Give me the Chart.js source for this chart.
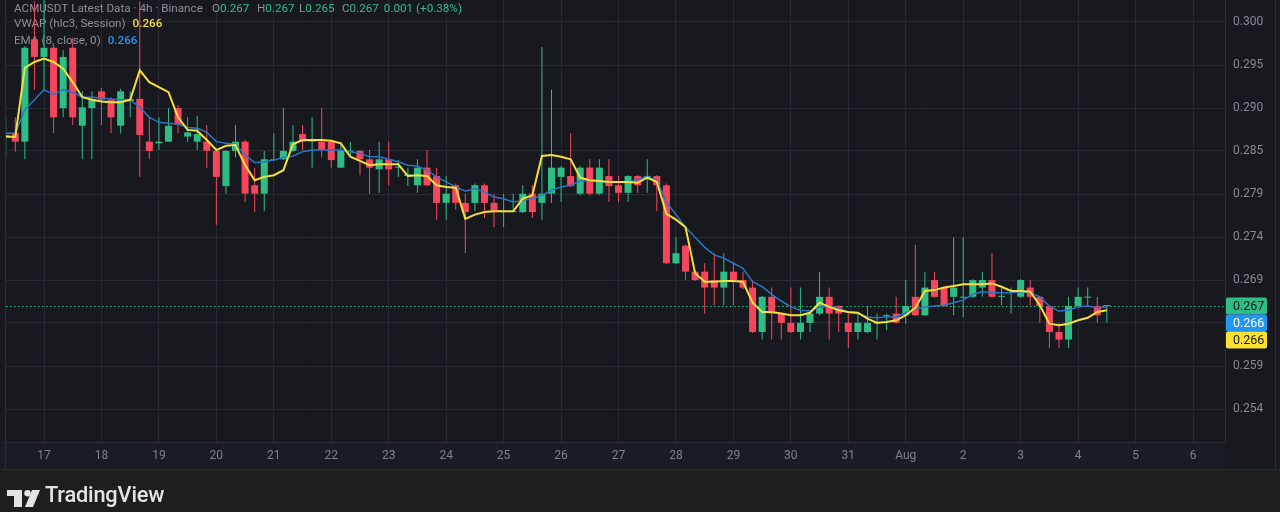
<!DOCTYPE html>
<html>
<head>
<meta charset="utf-8">
<script src="https://cdn.jsdelivr.net/npm/chart.js@4.4.1/dist/chart.umd.min.js"></script>
<style>
  html, body { margin: 0; padding: 0; background: #1e1e1e; }
  #wrap { position: relative; width: 1280px; height: 512px; overflow: hidden; }
  #logo { position: absolute; left: 7px; top: 490px; }
  #brand { position: absolute; left: 45px; top: 484px; font: 500 21.8px/22px Roboto, sans-serif; color: #e4e4e4; letter-spacing: -0.2px; }
</style>
</head>
<body>
<div id="wrap">
  <canvas id="priceChart" width="1280" height="512"></canvas>
  <svg id="logo" width="34" height="18" viewBox="0 0 34 18">
    <rect x="0" y="0" width="15" height="6" fill="#e4e4e4"/>
    <rect x="7" y="0" width="8" height="17" fill="#e4e4e4"/>
    <circle cx="20.5" cy="3.2" r="3.2" fill="#e4e4e4"/>
    <polygon points="25,0 33,0 26,17 18,17" fill="#e4e4e4"/>
  </svg>
  <div id="brand">TradingView</div>
</div>
<script>
// ACMUSDT 4h candles, first one is Jul 16 08:00
const opens = [
  0.2863, 0.2867, 0.2857, 0.2979, 0.2958, 0.2969, 0.2897, 0.2969, 0.2876, 0.2897,
  0.2917, 0.2907, 0.2876, 0.2905, 0.2908, 0.2857, 0.2855, 0.2857, 0.2897, 0.2863,
  0.2857, 0.2857, 0.2846, 0.2804, 0.2846, 0.2857, 0.2805, 0.2795, 0.2835, 0.2836,
  0.2846, 0.2866, 0.2857, 0.2857, 0.2857, 0.2826, 0.2845, 0.2846, 0.2836, 0.2824,
  0.2836, 0.2826, 0.2816, 0.2805, 0.2826, 0.2816, 0.2784, 0.2805, 0.2784, 0.2784,
  0.2805, 0.2784, 0.2773, 0.2773, 0.2773, 0.2795, 0.2784, 0.2795, 0.2815, 0.2816,
  0.2795, 0.2826, 0.2795, 0.2816, 0.2805, 0.2796, 0.2816, 0.2815, 0.2816, 0.2805,
  0.2712, 0.2733, 0.2702, 0.2702, 0.2692, 0.2683, 0.2702, 0.2692, 0.2683, 0.2630,
  0.2672, 0.2652, 0.2641, 0.2630, 0.2641, 0.2652, 0.2672, 0.2661, 0.2641, 0.2630,
  0.2630, 0.2640, 0.2649, 0.2652, 0.2650, 0.2672, 0.2650, 0.2692, 0.2683, 0.2672,
  0.2671, 0.2672, 0.2683, 0.2692, 0.2672, 0.2679, 0.2672, 0.2683, 0.2672, 0.2661,
  0.2630, 0.2621, 0.2661, 0.2671, 0.2661, 0.2661
];
const highs = [
  0.2886, 0.2886, 0.2971, 0.3024, 0.3026, 0.2972, 0.2966, 0.2981, 0.2917, 0.2917,
  0.2921, 0.2910, 0.2920, 0.2917, 0.3024, 0.2886, 0.2886, 0.2897, 0.2901, 0.2886,
  0.2888, 0.2877, 0.2847, 0.2847, 0.2877, 0.2859, 0.2826, 0.2846, 0.2867, 0.2897,
  0.2877, 0.2877, 0.2886, 0.2897, 0.2859, 0.2857, 0.2857, 0.2847, 0.2847, 0.2857,
  0.2857, 0.2835, 0.2826, 0.2836, 0.2847, 0.2826, 0.2816, 0.2807, 0.2795, 0.2807,
  0.2807, 0.2795, 0.2795, 0.2795, 0.2805, 0.2805, 0.2970, 0.2919, 0.2828, 0.2867,
  0.2828, 0.2836, 0.2836, 0.2836, 0.2816, 0.2817, 0.2817, 0.2836, 0.2817, 0.2807,
  0.2743, 0.2734, 0.2704, 0.2712, 0.2724, 0.2724, 0.2712, 0.2702, 0.2692, 0.2673,
  0.2683, 0.2653, 0.2683, 0.2683, 0.2653, 0.2702, 0.2683, 0.2662, 0.2652, 0.2652,
  0.2661, 0.2652, 0.2652, 0.2672, 0.2692, 0.2734, 0.2702, 0.2702, 0.2684, 0.2743,
  0.2743, 0.2693, 0.2702, 0.2724, 0.2683, 0.2683, 0.2693, 0.2692, 0.2673, 0.2662,
  0.2641, 0.2672, 0.2683, 0.2683, 0.2672, 0.2661
];
const lows = [
  0.2838, 0.2845, 0.2836, 0.2919, 0.2919, 0.2867, 0.2886, 0.2877, 0.2836, 0.2836,
  0.2877, 0.2867, 0.2867, 0.2886, 0.2815, 0.2836, 0.2847, 0.2857, 0.2867, 0.2857,
  0.2847, 0.2826, 0.2758, 0.2795, 0.2838, 0.2785, 0.2773, 0.2774, 0.2834, 0.2835,
  0.2845, 0.2847, 0.2826, 0.2838, 0.2826, 0.2826, 0.2838, 0.2817, 0.2795, 0.2796,
  0.2805, 0.2815, 0.2804, 0.2796, 0.2804, 0.2764, 0.2764, 0.2776, 0.2724, 0.2774,
  0.2766, 0.2755, 0.2755, 0.2773, 0.2772, 0.2766, 0.2764, 0.2784, 0.2785, 0.2803,
  0.2793, 0.2793, 0.2793, 0.2785, 0.2785, 0.2785, 0.2796, 0.2796, 0.2774, 0.2711,
  0.2711, 0.2692, 0.2691, 0.2652, 0.2662, 0.2662, 0.2662, 0.2681, 0.2629, 0.2621,
  0.2621, 0.2621, 0.2629, 0.2621, 0.2630, 0.2650, 0.2621, 0.2630, 0.2611, 0.2621,
  0.2629, 0.2621, 0.2632, 0.2640, 0.2640, 0.2649, 0.2649, 0.2671, 0.2660, 0.2650,
  0.2648, 0.2671, 0.2672, 0.2671, 0.2662, 0.2652, 0.2671, 0.2662, 0.2641, 0.2611,
  0.2611, 0.2611, 0.2660, 0.2661, 0.2641, 0.2641
];
const closes = [
  0.2865, 0.2857, 0.2969, 0.2958, 0.2969, 0.2886, 0.2958, 0.2886, 0.2898, 0.2908,
  0.2907, 0.2886, 0.2917, 0.2908, 0.2865, 0.2846, 0.2857, 0.2876, 0.2877, 0.2868,
  0.2866, 0.2846, 0.2815, 0.2846, 0.2857, 0.2795, 0.2795, 0.2836, 0.2836, 0.2846,
  0.2857, 0.2857, 0.2858, 0.2847, 0.2835, 0.2846, 0.2846, 0.2836, 0.2826, 0.2836,
  0.2824, 0.2827, 0.2818, 0.2826, 0.2805, 0.2784, 0.2795, 0.2784, 0.2773, 0.2805,
  0.2784, 0.2773, 0.2774, 0.2774, 0.2795, 0.2773, 0.2795, 0.2826, 0.2826, 0.2804,
  0.2826, 0.2795, 0.2826, 0.2804, 0.2796, 0.2816, 0.2805, 0.2816, 0.2805, 0.2712,
  0.2724, 0.2702, 0.2692, 0.2683, 0.2683, 0.2702, 0.2692, 0.2683, 0.2630, 0.2672,
  0.2652, 0.2641, 0.2630, 0.2641, 0.2652, 0.2672, 0.2652, 0.2652, 0.2630, 0.2641,
  0.2641, 0.2642, 0.2650, 0.2641, 0.2661, 0.2650, 0.2683, 0.2672, 0.2661, 0.2683,
  0.2672, 0.2692, 0.2692, 0.2672, 0.2673, 0.2680, 0.2692, 0.2672, 0.2661, 0.2630,
  0.2621, 0.2661, 0.2672, 0.2672, 0.2650, 0.2661
];
// VWAP (hlc3, Session) and EMA 8
const vwap = [
  0.2863, 0.2863, 0.2945, 0.2952, 0.2956, 0.2952, 0.2944, 0.2928, 0.2910, 0.2907,
  0.2905, 0.2904, 0.2904, 0.2907, 0.2942, 0.2928, 0.2922, 0.2916, 0.2886, 0.2871,
  0.2870, 0.2859, 0.2847, 0.2852, 0.2853, 0.2829, 0.2811, 0.2815, 0.2817, 0.2823,
  0.2854, 0.2859, 0.2859, 0.2859, 0.2858, 0.2855, 0.2839, 0.2834, 0.2829, 0.2830,
  0.2830, 0.2830, 0.2816, 0.2817, 0.2816, 0.2805, 0.2803, 0.2802, 0.2765, 0.2770,
  0.2773, 0.2774, 0.2774, 0.2774, 0.2789, 0.2793, 0.2840, 0.2841, 0.2839, 0.2836,
  0.2814, 0.2811, 0.2810, 0.2809, 0.2809, 0.2809, 0.2808, 0.2814, 0.2809, 0.2771,
  0.2764, 0.2755, 0.2700, 0.2690, 0.2690, 0.2691, 0.2691, 0.2690, 0.2665, 0.2654,
  0.2654, 0.2652, 0.2650, 0.2650, 0.2653, 0.2665, 0.2660, 0.2656, 0.2654, 0.2653,
  0.2646, 0.2641, 0.2642, 0.2644, 0.2650, 0.2659, 0.2679, 0.2680, 0.2683, 0.2685,
  0.2687, 0.2687, 0.2687, 0.2688, 0.2684, 0.2679, 0.2679, 0.2678, 0.2662, 0.2640,
  0.2638, 0.2640, 0.2644, 0.2647, 0.2654, 0.2656
];
const ema8 = [
  0.2867, 0.2867, 0.2895, 0.2907, 0.2919, 0.2913, 0.2919, 0.2916, 0.2910, 0.2910,
  0.2909, 0.2908, 0.2907, 0.2907, 0.2898, 0.2886, 0.2880, 0.2879, 0.2878, 0.2874,
  0.2873, 0.2868, 0.2857, 0.2855, 0.2854, 0.2841, 0.2832, 0.2833, 0.2835, 0.2838,
  0.2840, 0.2845, 0.2847, 0.2847, 0.2847, 0.2847, 0.2845, 0.2843, 0.2839, 0.2839,
  0.2836, 0.2833, 0.2829, 0.2828, 0.2823, 0.2815, 0.2809, 0.2803, 0.2798, 0.2801,
  0.2797, 0.2791, 0.2789, 0.2785, 0.2787, 0.2789, 0.2793, 0.2799, 0.2803, 0.2805,
  0.2810, 0.2811, 0.2810, 0.2808, 0.2809, 0.2809, 0.2812, 0.2815, 0.2811, 0.2785,
  0.2770, 0.2755, 0.2743, 0.2731, 0.2722, 0.2718, 0.2712, 0.2706, 0.2690, 0.2684,
  0.2675, 0.2667, 0.2660, 0.2656, 0.2655, 0.2660, 0.2660, 0.2659, 0.2653, 0.2652,
  0.2648, 0.2647, 0.2648, 0.2648, 0.2653, 0.2657, 0.2660, 0.2661, 0.2662, 0.2665,
  0.2668, 0.2675, 0.2678, 0.2677, 0.2677, 0.2677, 0.2678, 0.2677, 0.2672, 0.2661,
  0.2655, 0.2656, 0.2660, 0.2661, 0.2659, 0.2660
];

// day boundaries (candle index of 00:00) and their labels
const dayTickIndex = [4, 10, 16, 22, 28, 34, 40, 46, 52, 58, 64, 70, 76, 82, 88, 94, 100, 106, 112, 118, 124];
const dayLabels = ['17', '18', '19', '20', '21', '22', '23', '24', '25', '26', '27', '28', '29', '30', '31', 'Aug', '2', '3', '4', '5', '6'];
const priceTicks = [0.2538, 0.2589, 0.2641, 0.2692, 0.2743, 0.2794, 0.2846, 0.2897, 0.2948, 0.3000];

// legend texts as shown in the header
const symbolTitle = 'ACMUSDT Latest Data · 4h · Binance';
const ohlcText = [['O', '0.267'], ['H', '0.267'], ['L', '0.265'], ['C', '0.267']];
const changeText = '0.001 (+0.38%)';
const lastPriceText = '0.267';

const UP = '#2ebd85';
const DOWN = '#f6465d';
const VWAP_COLOR = '#f5df3a';
const EMA_COLOR = '#2a74c8';
const GRID = '#262a33';
const FONT = 'Roboto, "Noto Sans", sans-serif';

const candleColors = opens.map((o, i) => closes[i] >= o ? UP : DOWN);

// backgrounds, borders
const backdropPlugin = {
    id: 'backdrop',
    beforeDraw(chart) {
        const ctx = chart.ctx;
        const a = chart.chartArea;
        ctx.save();
        ctx.fillStyle = '#1e1e1e';
        ctx.fillRect(0, 0, chart.width, chart.height);
        ctx.fillStyle = '#18191e';
        ctx.fillRect(0, 0, chart.width, a.bottom + 27);
        ctx.fillStyle = '#1a1c24';
        ctx.fillRect(0, a.bottom, a.right, 27);
        ctx.restore();
    },
    afterDraw(chart) {
        const ctx = chart.ctx;
        const a = chart.chartArea;
        ctx.save();
        ctx.strokeStyle = '#2a2d36';
        ctx.lineWidth = 1;
        ctx.beginPath();
        ctx.moveTo(0, a.bottom + 27.5);
        ctx.lineTo(chart.width, a.bottom + 27.5);
        ctx.moveTo(a.left - 0.5, 0);
        ctx.lineTo(a.left - 0.5, a.bottom + 27);
        ctx.moveTo(1275.5, 0);
        ctx.lineTo(1275.5, a.bottom + 27);
        ctx.stroke();
        ctx.restore();
    }
};

// header legend, drawn under the candles
const legendPlugin = {
    id: 'tvLegend',
    beforeDatasetsDraw(chart) {
        const ctx = chart.ctx;
        ctx.save();
        // size the legend font so the title spans like the original
        ctx.font = '12px ' + FONT;
        const size = (12 * 189 / ctx.measureText(symbolTitle).width).toFixed(2);
        const font = size + 'px ' + FONT;
        ctx.font = font;
        ctx.textBaseline = 'middle';
        const gray = '#8c8f98';
        ctx.fillStyle = gray;
        ctx.fillText(symbolTitle, 14, 9);
        const ohlcX = [212, 257, 299, 342];
        let x = 0;
        ohlcText.forEach(([k, v], i) => {
            x = ohlcX[i];
            ctx.fillStyle = gray;
            ctx.fillText(k, x, 9);
            x += ctx.measureText(k).width;
            ctx.fillStyle = UP;
            ctx.fillText(v, x, 9);
            x += ctx.measureText(v).width;
        });
        ctx.fillStyle = UP;
        ctx.fillText(changeText, x + 5, 9);

        const lines = [
            ['VWAP (hlc3, Session)', vwap[vwap.length - 1].toFixed(3), VWAP_COLOR, 24],
            ['EMA (8, close, 0)', ema8[ema8.length - 1].toFixed(3), '#2196f3', 41]
        ];
        lines.forEach(([name, val, col, y]) => {
            ctx.fillStyle = gray;
            ctx.font = font;
            ctx.fillText(name, 14, y);
            const w = ctx.measureText(name).width;
            ctx.fillStyle = col;
            ctx.font = '500 ' + font;
            ctx.fillText(val, 14 + w + 7, y);
        });
        ctx.restore();
    }
};

// last price dotted line + stacked price scale labels
const priceLabelPlugin = {
    id: 'priceLabels',
    beforeDatasetsDraw(chart) {
        const ctx = chart.ctx;
        const a = chart.chartArea;
        const y = Math.round(chart.scales.y.getPixelForValue(closes[closes.length - 1])) + 0.5;
        ctx.save();
        ctx.strokeStyle = UP;
        ctx.lineWidth = 1;
        ctx.setLineDash([1.5, 2.5]);
        ctx.beginPath();
        ctx.moveTo(a.left, y);
        ctx.lineTo(a.right, y);
        ctx.stroke();
        ctx.restore();
    },
    afterDraw(chart) {
        const ctx = chart.ctx;
        const ys = chart.scales.y;
        const boxes = [
            { v: closes[closes.length - 1], text: lastPriceText, bg: UP, fg: '#16181d' },
            { v: ema8[ema8.length - 1], text: ema8[ema8.length - 1].toFixed(3), bg: '#2196f3', fg: '#ffffff' },
            { v: vwap[vwap.length - 1], text: vwap[vwap.length - 1].toFixed(3), bg: '#fbe232', fg: '#16181d' }
        ];
        const h = 17;
        let prevBottom = -Infinity;
        boxes.forEach(b => {
            let top = ys.getPixelForValue(b.v) - h / 2;
            if (top < prevBottom) top = prevBottom;
            prevBottom = top + h;
            ctx.save();
            ctx.fillStyle = b.bg;
            ctx.beginPath();
            ctx.roundRect(1226, top, 41, h, 2);
            ctx.fill();
            ctx.fillStyle = b.fg;
            ctx.font = '12.5px ' + FONT;
            ctx.textBaseline = 'middle';
            ctx.fillText(b.text, 1233, top + h / 2 + 0.5);
            ctx.restore();
        });
    }
};

const ctx = document.getElementById('priceChart').getContext('2d');
new Chart(ctx, {
    type: 'bar',
    data: {
        datasets: [
            {
                type: 'line',
                label: 'VWAP',
                data: vwap.map((v, i) => ({ x: i, y: v })),
                borderColor: VWAP_COLOR,
                borderWidth: 2,
                pointRadius: 0,
                tension: 0,
                order: 0
            },
            {
                type: 'line',
                label: 'EMA 8',
                data: ema8.map((v, i) => ({ x: i, y: v })),
                borderColor: EMA_COLOR,
                borderWidth: 1.5,
                pointRadius: 0,
                tension: 0,
                order: 1
            },
            {
                label: 'bodies',
                data: opens.map((o, i) => ({ x: i, y: [o, closes[i]] })),
                backgroundColor: candleColors,
                barThickness: 7,
                minBarLength: 1,
                grouped: false,
                borderWidth: 0,
                inflateAmount: 0,
                order: 2
            },
            {
                label: 'wicks',
                data: lows.map((l, i) => ({ x: i, y: [l, highs[i]] })),
                backgroundColor: candleColors,
                barThickness: 1,
                grouped: false,
                borderWidth: 0,
                inflateAmount: 0,
                order: 3
            }
        ]
    },
    options: {
        responsive: false,
        animation: false,
        events: [],
        layout: { padding: { left: 6, right: 0, top: 0, bottom: 43 } },
        plugins: { legend: { display: false }, tooltip: { enabled: false } },
        scales: {
            x: {
                type: 'linear',
                offset: false,
                min: 0.03,
                max: 127.34,
                grid: { color: GRID, drawTicks: false, offset: false },
                border: { color: '#2a2d36' },
                afterBuildTicks: s => { s.ticks = dayTickIndex.map(v => ({ value: v })); },
                afterFit: s => { s.height = 27; s.paddingLeft = 0; s.paddingRight = 0; },
                ticks: {
                    autoSkip: false,
                    maxRotation: 0,
                    padding: 7,
                    color: '#7d818c',
                    font: { family: FONT, size: 12 },
                    callback: v => dayLabels[dayTickIndex.indexOf(v)]
                }
            },
            y: {
                type: 'linear',
                position: 'right',
                min: 0.24989,
                max: 0.30259,
                grid: { color: GRID, drawTicks: false },
                border: { color: '#2a2d36' },
                afterBuildTicks: s => { s.ticks = priceTicks.map(v => ({ value: v })); },
                afterFit: s => { s.width = 55; s.paddingTop = 0; s.paddingBottom = 0; },
                ticks: {
                    padding: 8,
                    color: '#878a93',
                    font: { family: FONT, size: 12 },
                    callback: v => v.toFixed(3)
                }
            }
        }
    },
    plugins: [backdropPlugin, legendPlugin, priceLabelPlugin]
});
</script>
</body>
</html>
